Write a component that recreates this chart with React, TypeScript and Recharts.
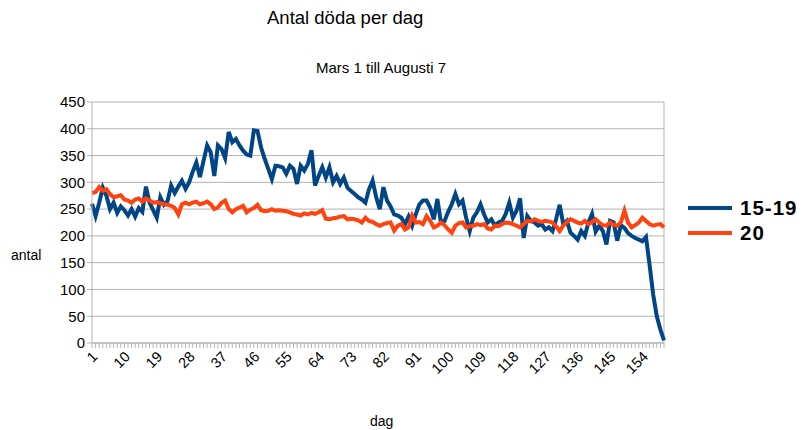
import React from 'react'
import { LineChart, Line, XAxis, YAxis, CartesianGrid, ReferenceLine } from 'recharts'

// dag 1 = 1 mars, dag 160 = 7 augusti
const days: number[] = Array.from({ length: 160 }, (_, i) => i + 1)

const series1519: number[] = [
    260, 237, 262, 290, 275, 250, 262, 243, 255, 248,
    238, 250, 236, 252, 245, 292, 262, 248, 234, 272,
    258, 265, 294, 280, 292, 303, 288, 300, 320, 337,
    310, 340, 369, 356, 312, 369, 362, 345, 394, 375,
    381, 369, 359, 352, 350, 397, 396, 365, 344, 325,
    306, 331, 330, 328, 316, 331, 325, 297, 331, 322,
    334, 360, 294, 312, 328, 309, 328, 300, 312, 297,
    309, 290, 284, 278, 272, 268, 262, 287, 303, 272,
    250, 291, 266, 255, 240, 238, 234, 222, 236, 219,
    240, 259, 266, 266, 253, 231, 269, 225, 228, 245,
    259, 278, 259, 266, 234, 209, 234, 244, 259, 240,
    225, 231, 219, 225, 228, 241, 262, 234, 247, 270,
    196, 237, 228, 225, 219, 222, 212, 216, 209, 231,
    258, 222, 228, 206, 200, 193, 209, 200, 225, 241,
    208, 219, 209, 184, 228, 225, 191, 220, 215, 205,
    200, 196, 193, 190, 198, 145, 90, 50, 25, 5,
]

const series20: number[] = [
    280, 282, 291, 284, 287, 278, 272, 274, 276, 268,
    266, 262, 268, 270, 264, 270, 266, 262, 263, 261,
    259, 258, 256, 252, 240, 259, 262, 259, 262, 264,
    259, 261, 264, 259, 250, 253, 262, 266, 250, 244,
    250, 253, 256, 244, 249, 252, 258, 248, 246, 247,
    250, 247, 248, 247, 246, 244, 241, 240, 238, 242,
    240, 243, 241, 244, 248, 232, 231, 233, 234, 236,
    237, 231, 232, 231, 229, 225, 234, 228, 226, 222,
    219, 222, 224, 225, 210, 219, 222, 212, 216, 238,
    225, 226, 222, 237, 228, 216, 219, 225, 220, 212,
    206, 219, 224, 225, 216, 218, 219, 222, 220, 222,
    214, 212, 219, 218, 222, 225, 224, 222, 219, 216,
    222, 228, 227, 231, 228, 226, 228, 227, 225, 218,
    209, 219, 226, 231, 228, 225, 223, 228, 222, 226,
    231, 225, 220, 219, 225, 221, 219, 225, 247, 225,
    216, 220, 225, 234, 228, 222, 219, 221, 222, 216,
]

const yTicks: number[] = [0, 50, 100, 150, 200, 250, 300, 350, 400, 450]

const seriesNames = ['15-19', '20']
const colors = ['#004586', '#ff420e']

const data = days.map((d, i) => ({ dag: d, a: series1519[i], b: series20[i] }))

const font = '"Liberation Sans", Arial, sans-serif'

const XTick = (props: any) => {
    const { x, y, payload } = props
    if ((Number(payload.value) - 1) % 9 !== 0) return null
    const tx = x + 3
    const ty = y + 4
    return (
        <text
            x={tx}
            y={ty}
            transform={`rotate(-45 ${tx} ${ty})`}
            textAnchor="end"
            dominantBaseline="central"
            fontSize={14.5}
            fontFamily={font}
            fill="#000"
        >
            {payload.value}
        </text>
    )
}

export default function App() {
    return (
        <div style={{ position: 'absolute', left: 0, top: 0, width: 812, height: 430, background: '#fff', fontFamily: font }}>
            <div style={{ position: 'absolute', left: 267, top: 7, fontSize: 18.5, color: '#000', whiteSpace: 'nowrap' }}>
                Antal döda per dag
            </div>
            <div style={{ position: 'absolute', left: 316, top: 59, fontSize: 15, color: '#000', whiteSpace: 'nowrap' }}>
                Mars 1 till Augusti 7
            </div>
            <div style={{ position: 'absolute', left: 11, top: 247, fontSize: 14, color: '#000' }}>antal</div>
            <div style={{ position: 'absolute', left: 370, top: 413, fontSize: 14, color: '#000' }}>dag</div>

            <LineChart
                width={812}
                height={430}
                data={data}
                margin={{ top: 102, right: 148, bottom: 0, left: 40 }}
            >
                <CartesianGrid vertical={false} stroke="#b3b3b3" />
                <XAxis
                    dataKey="dag"
                    type="category"
                    interval={0}
                    tick={<XTick />}
                    tickSize={5}
                    tickLine={{ stroke: '#b3b3b3' }}
                    axisLine={{ stroke: '#b3b3b3' }}
                    height={87}
                />
                <YAxis
                    domain={[0, 450]}
                    ticks={yTicks}
                    interval={0}
                    width={52}
                    tickSize={5}
                    tickLine={{ stroke: '#b3b3b3' }}
                    axisLine={{ stroke: '#b3b3b3' }}
                    tick={{ fontSize: 15, fill: '#000', fontFamily: font }}
                />
                <ReferenceLine x={160} stroke="#b3b3b3" />
                <Line
                    type="linear"
                    dataKey="a"
                    name={seriesNames[0]}
                    stroke={colors[0]}
                    strokeWidth={4}
                    dot={false}
                    isAnimationActive={false}
                />
                <Line
                    type="linear"
                    dataKey="b"
                    name={seriesNames[1]}
                    stroke={colors[1]}
                    strokeWidth={4}
                    dot={false}
                    isAnimationActive={false}
                />
            </LineChart>

            {seriesNames.map((n, i) => (
                <div key={n} style={{ position: 'absolute', left: 688, top: 196 + i * 25, display: 'flex', alignItems: 'center' }}>
                    <div style={{ width: 44, height: 4, background: colors[i], marginRight: 8 }} />
                    <span style={{ fontSize: 20.5, fontWeight: 'bold', color: '#000', letterSpacing: 1 }}>{n}</span>
                </div>
            ))}
        </div>
    )
}
